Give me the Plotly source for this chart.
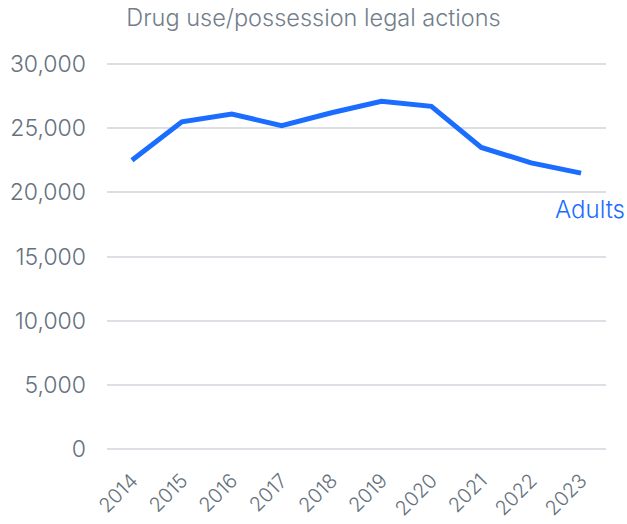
import plotly.graph_objects as go

# Drug use/possession legal actions involving adults, by year
years = [2014, 2015, 2016, 2017, 2018, 2019, 2020, 2021, 2022, 2023]
adults = [22500, 25500, 26100, 25200, 26200, 27100, 26700, 23500, 22300, 21500]
y_ticks = [0, 5000, 10000, 15000, 20000, 25000, 30000]

LINE_BLUE = "#1a6dff"
TEXT_GREY = "#65717e"
GRID_GREY = "#dcdfe3"
FONT = "Inter"

fig = go.Figure()
fig.add_trace(go.Scatter(
    x=years,
    y=adults,
    mode="lines",
    name="Adults",
    line=dict(color=LINE_BLUE, width=5),
    hoverinfo="x+y",
))

# Series label placed beneath the last point
fig.add_annotation(
    x=years[-1], y=adults[-1],
    xref="x", yref="y",
    text="Adults",
    showarrow=False,
    xanchor="center", yanchor="middle",
    xshift=9, yshift=-36,
    font=dict(family=FONT, size=24, color=LINE_BLUE, weight=300),
)

fig.update_layout(
    width=627,
    height=524,
    margin=dict(l=107, r=21, t=63, b=74),
    paper_bgcolor="white",
    plot_bgcolor="white",
    showlegend=False,
    title=dict(
        text="Drug use/possession legal actions",
        x=0.5, xanchor="center",
        y=1 - 18 / 524, yanchor="middle",
        font=dict(family=FONT, size=23.5, color="#737e8a", weight=300),
    ),
    font=dict(family=FONT, color=TEXT_GREY),
)

fig.update_xaxes(
    range=[years[0] - 0.5, years[-1] + 0.5],
    tickvals=years,
    ticktext=[str(y) for y in years],
    tickangle=-45,
    tickfont=dict(family=FONT, size=20, color=TEXT_GREY, weight=300),
    showgrid=False,
    showline=False,
    zeroline=False,
    ticks="",
    ticklabelstandoff=14,
    automargin=False,
)

# Small padding so the 0 and 30,000 gridlines are not dropped at the range edges
fig.update_yaxes(
    range=[-80, 30080],
    tickvals=y_ticks,
    ticktext=[f"{v:,}" for v in y_ticks],
    tickfont=dict(family=FONT, size=23, color=TEXT_GREY, weight=300),
    showgrid=True,
    gridcolor=GRID_GREY,
    gridwidth=2,
    zeroline=False,
    showline=False,
    ticks="",
    ticklabelstandoff=20,
    automargin=False,
)

fig.write_html("out.html")
